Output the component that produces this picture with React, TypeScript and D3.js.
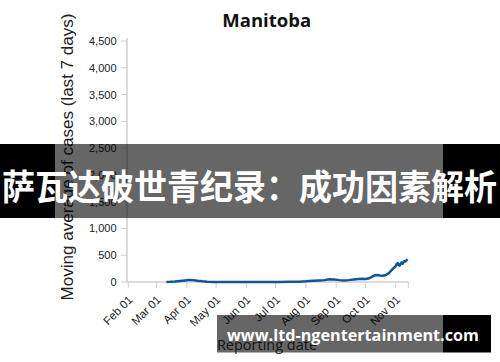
import React from "react";
import * as d3 from "d3";

const title = "Manitoba";
const yLabel = "Moving average of cases (last 7 days)";
const xLabel = "Reporting date";
const bannerText = "萨瓦达破世青纪录：成功因素解析";
const watermarkText = "www.ltd-ngentertainment.com";

const yTicks = [0, 500, 1000, 1500, 2000, 2500, 3000, 3500, 4000, 4500];
const xTickDates = ["2020-02-01", "2020-03-01", "2020-04-01", "2020-05-01", "2020-06-01", "2020-07-01", "2020-08-01", "2020-09-01", "2020-10-01", "2020-11-01"];

const dates = [
  "2020-03-11", "2020-03-15", "2020-03-20", "2020-03-25", "2020-03-30", "2020-04-03", "2020-04-07", "2020-04-12",
  "2020-04-17", "2020-04-22", "2020-04-28", "2020-05-05", "2020-05-15", "2020-05-25", "2020-06-05", "2020-06-15",
  "2020-06-25", "2020-07-05", "2020-07-15", "2020-07-25", "2020-08-01", "2020-08-08", "2020-08-15", "2020-08-20",
  "2020-08-25", "2020-08-30", "2020-09-04", "2020-09-09", "2020-09-14", "2020-09-19", "2020-09-24", "2020-09-28",
  "2020-10-01", "2020-10-04", "2020-10-07", "2020-10-10", "2020-10-13", "2020-10-16", "2020-10-19", "2020-10-22",
  "2020-10-25", "2020-10-27", "2020-10-29", "2020-10-31", "2020-11-01", "2020-11-02", "2020-11-03", "2020-11-04",
  "2020-11-05", "2020-11-06", "2020-11-07", "2020-11-08", "2020-11-09", "2020-11-10", "2020-11-11", "2020-11-12",
  "2020-11-13",
];
const values = [
  1, 3, 10, 20, 30, 38, 35, 22,
  12, 5, 2, 1, 1, 0, 1, 0,
  1, 2, 3, 5, 12, 25, 30, 35,
  50, 48, 35, 30, 35, 45, 55, 60,
  55, 65, 90, 120, 130, 122, 118, 130,
  165, 205, 245, 275, 300, 335, 355, 315,
  305, 345, 365, 340, 372, 392, 382, 405,
  425,
];

const parse = d3.utcParse("%Y-%m-%d");
const fmt = d3.utcFormat("%b %d");

export default function App() {
  const W = 500, H = 362;
  const x = d3.scaleUtc().domain([parse("2020-01-31")!, parse("2020-11-14")!]).range([127.3, 408.4]);
  const y = d3.scaleLinear().domain([0, 4500]).range([282, 41]);
  const data = dates.map((d, i) => ({ date: parse(d)!, v: values[i] }));
  const line = d3.line<{ date: Date; v: number }>().x(d => x(d.date)).y(d => y(d.v));
  const axisColor = "#cfcfcf";
  const font = "'Open Sans', sans-serif";
  const sans = "'Liberation Sans', Arial, sans-serif";

  return (
    <svg width={W} height={H} style={{ position: "absolute", left: 0, top: 0, background: "#fff" }}>
      <rect width={W} height={H} fill="#fff" />
      <text x={266.7} y={26.5} textAnchor="middle" fontFamily={font} fontWeight={700} fontSize={18.5} fill="#111">{title}</text>
      {/* y axis */}
      <line x1={127} x2={127} y1={38} y2={282} stroke={axisColor} strokeWidth={1.5} />
      {yTicks.map(t => (
        <g key={t}>
          <line x1={121} x2={127} y1={y(t)} y2={y(t)} stroke={axisColor} strokeWidth={1} />
          <text x={116.5} y={y(t) + 4} textAnchor="end" fontFamily={sans} fontSize={11} fill="#222">{d3.format(",")(t)}</text>
        </g>
      ))}
      {/* x axis */}
      <line x1={127} x2={x.range()[1]} y1={282} y2={282} stroke={axisColor} strokeWidth={1.5} />
      <line x1={x.range()[1]} x2={x.range()[1]} y1={282} y2={288} stroke={axisColor} strokeWidth={1} />
      {xTickDates.map(d => {
        const xv = x(parse(d)!);
        return (
          <g key={d}>
            <line x1={xv} x2={xv} y1={282} y2={288} stroke={axisColor} strokeWidth={1} />
            <text transform={`translate(${xv + 5},${300.5}) rotate(-45)`} textAnchor="end" fontFamily={sans} fontSize={11.5} fill="#222">{fmt(parse(d)!)}</text>
          </g>
        );
      })}
      <path d={line(data) || ""} fill="none" stroke="#0b55a3" strokeWidth={2.5} strokeLinejoin="round" />
      <text transform={`translate(72.5,157) rotate(-90)`} textAnchor="middle" fontFamily={sans} fontSize={16} fill="#222" textLength={287} lengthAdjust="spacingAndGlyphs">{yLabel}</text>
      <text x={267} y={350} textAnchor="middle" fontFamily={font} fontSize={14.5} fill="#333">{xLabel}</text>
      {/* banner overlay */}
      <rect x={0} y={144} width={55} height={74} fill="#000" />
      <rect x={55} y={144} width={388} height={74} fill="rgba(0,0,0,0.6)" />
      <rect x={443} y={144} width={57} height={74} fill="#000" />
      <text x={2} y={200} fontFamily="'Noto Sans CJK SC', sans-serif" fontWeight={700} fontSize={35} fill="#fff" textLength={495} lengthAdjust="spacingAndGlyphs">{bannerText}</text>
      {/* watermark */}
      <rect x={217} y={315} width={226} height={37.5} fill="rgba(0,0,0,0.6)" />
      <rect x={443} y={315} width={48} height={37.5} fill="#000" />
      <text x={227} y={341} fontFamily={font} fontWeight={700} fontSize={16} fill="#fff" textLength={252} lengthAdjust="spacingAndGlyphs">{watermarkText}</text>
    </svg>
  );
}
